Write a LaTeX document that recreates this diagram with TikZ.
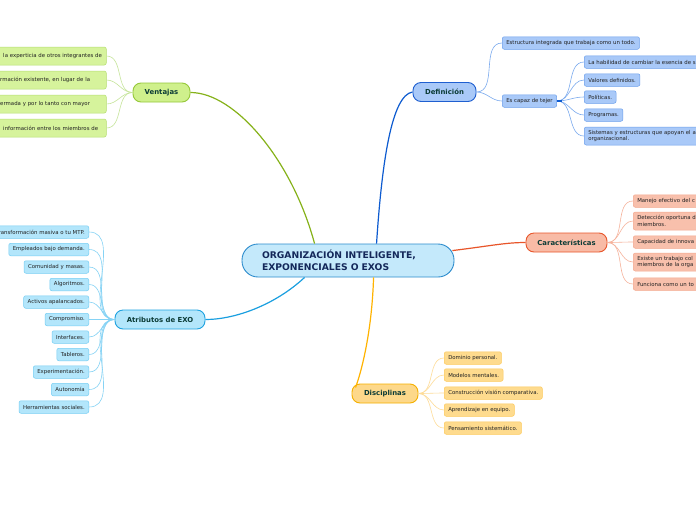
\documentclass[tikz,border=0pt]{standalone}
\usepackage{fontspec}
\setmainfont{DejaVu Sans}
\usetikzlibrary{calc}
\definecolor{ctrfill}{HTML}{C4E9FB}\definecolor{ctrdraw}{HTML}{2D8CCD}\definecolor{ctrtext}{HTML}{14285A}
\definecolor{brtext}{HTML}{0B3B36}\definecolor{lftext}{HTML}{222222}
\definecolor{vfill}{HTML}{CFF08C}\definecolor{vdraw}{HTML}{96C83A}\definecolor{vlfill}{HTML}{D6F39C}\definecolor{vldraw}{HTML}{B6DE72}\definecolor{vmain}{HTML}{86B21A}\definecolor{vcon}{HTML}{C6E59A}
\definecolor{afill}{HTML}{B3E6FB}\definecolor{adraw}{HTML}{1EA2E0}\definecolor{alfill}{HTML}{B3E6FB}\definecolor{aldraw}{HTML}{76CEF3}\definecolor{amain}{HTML}{1A9FE0}\definecolor{acon}{HTML}{86D3F5}
\definecolor{dfill}{HTML}{A9C9F8}\definecolor{ddraw}{HTML}{1F5FD0}\definecolor{dlfill}{HTML}{A9C9F8}\definecolor{dldraw}{HTML}{6B9FEC}\definecolor{dmain}{HTML}{0D5BD0}\definecolor{dcon}{HTML}{7BAAEE}
\definecolor{cfill}{HTML}{F8BBA6}\definecolor{cdraw}{HTML}{E8562B}\definecolor{clfill}{HTML}{F8C0AC}\definecolor{cldraw}{HTML}{F3A88E}\definecolor{cmain}{HTML}{E8552A}\definecolor{ccon}{HTML}{F6B39C}
\definecolor{pfill}{HTML}{FDD88A}\definecolor{pdraw}{HTML}{F5B000}\definecolor{plfill}{HTML}{FEDB8E}\definecolor{pldraw}{HTML}{FDC95A}\definecolor{pmain}{HTML}{FFB300}\definecolor{pcon}{HTML}{FEDC98}
\begin{document}
\begin{tikzpicture}[x=1pt,y=-1pt,
  branch/.style={draw, line width=0.9pt, rounded corners=8pt, font=\bfseries\fontsize{6.9}{8}\selectfont, text=brtext, minimum height=19pt, inner sep=2pt},
  leaf/.style={draw, line width=0.5pt, rounded corners=2pt, font=\fontsize{5.4}{6.4}\selectfont, text=lftext, minimum height=12.5pt, inner xsep=4pt, inner ysep=2pt},
  rleaf/.style={leaf, anchor=west, align=left},
  lleaf/.style={leaf, anchor=east, align=right},
  maincon/.style={line width=1.2pt},
  subcon/.style={line width=0.6pt}]
\useasboundingbox (0,0) rectangle (696,520);
\clip (0,0) rectangle (696,520);
\fill[white] (0,0) rectangle (696,520);

% central
\node[draw=ctrdraw, fill=ctrfill, line width=0.9pt, rounded corners=16pt, minimum width=212pt, minimum height=33pt,
  text width=172pt, align=left, font=\bfseries\fontsize{9.2}{12}\selectfont, text=ctrtext, inner sep=0pt]
  (c) at (348,260.5) {ORGANIZACIÓN INTELIGENTE,\\EXPONENCIALES O EXOS};

% branches
\node[branch, draw=vdraw, fill=vfill, minimum width=57pt] (ven) at (161.5,92.5) {Ventajas};
\node[branch, draw=adraw, fill=afill, minimum width=90pt] (atr) at (160,319.5) {Atributos de EXO};
\node[branch, draw=ddraw, fill=dfill, minimum width=63pt] (def) at (444.5,92) {Definición};
\node[branch, draw=cdraw, fill=cfill, minimum width=81pt] (car) at (566.5,242.5) {Características};
\node[branch, draw=pdraw, fill=pfill, minimum width=66pt] (dis) at (385,393.5) {Disciplinas};

% main connectors
\draw[maincon, vmain] ($(c.north west)+(73,0)$) .. controls (292,160) and (235,92.5) .. (ven.east);
\draw[maincon, dmain] ($(c.north west)+(135,0)$) .. controls (382,160) and (392,95) .. (def.west);
\draw[maincon, amain] ($(c.south west)+(63,0)$) .. controls (275,305) and (235,319.5) .. (atr.east);
\draw[maincon, cmain] ($(c.north east)+(-2,7)$) .. controls (490,246) and (505,242.5) .. (car.west);
\draw[maincon, pmain] ($(c.south west)+(132,0)$) .. controls (372,330) and (362,370) .. ($(dis.west)+(4,-6)$);

% Ventajas leaves (left-aligned text running off the left edge)
\begin{scope}[every node/.style={rleaf, draw=vldraw, fill=vlfill, text width=108pt, minimum height=18pt}]
\node (v1) at (-10,56) {\hspace*{9pt}la experticia de otros integrantes de};
\node (v2) at (-10,80) {\hspace*{6pt}rmación existente, en lugar de la};
\node (v3) at (-10,104) {\hspace*{6pt}ermada y por lo tanto con mayor};
\node (v4) at (-10,128) {\hspace*{9pt}información entre los miembros de};
\end{scope}
\foreach \n in {v1,v2,v3,v4} \draw[subcon, vcon] (ven.west) to[out=180,in=0] (\n.east);

% Atributos leaves
\begin{scope}[every node/.style={lleaf, draw=aldraw, fill=alfill}]
\node (a1) at (89,232) {transformación masiva o tu MTP.};
\node (a2) at (89,249.5) {Empleados bajo demanda.};
\node (a3) at (89,267) {Comunidad y masas.};
\node (a4) at (89,284.5) {Algoritmos.};
\node (a5) at (89,302) {Activos apalancados.};
\node (a6) at (89,319.5) {Compromiso.};
\node (a7) at (89,337) {Interfaces.};
\node (a8) at (89,354.5) {Tableros.};
\node (a9) at (89,372) {Experimentación.};
\node (a10) at (89,389.5) {Autonomía};
\node (a11) at (89,407) {Herramientas sociales.};
\end{scope}
\foreach \n in {a1,a2,a3,a4,a5,a6,a7,a8,a9,a10,a11} \draw[subcon, acon] (atr.west) to[out=180,in=0] (\n.east);

% Definicion leaves
\begin{scope}[every node/.style={rleaf, draw=dldraw, fill=dlfill}]
\node (d1) at (502,43) {Estructura integrada que trabaja como un todo.};
\node (d2) at (502,101) {Es capaz de tejer};
\node[text width=130pt] (e1) at (584,62) {La habilidad de cambiar la esencia de s};
\node (e2) at (584,80) {Valores definidos.};
\node (e3) at (584,97) {Políticas.};
\node (e4) at (584,115) {Programas.};
\node[text width=130pt, minimum height=18pt] (e5) at (584,136) {Sistemas y estructuras que apoyan el a\\organizacional.};
\end{scope}
\foreach \n in {d1,d2} \draw[subcon, dcon] (def.east) to[out=0,in=180] (\n.west);
\foreach \n in {e1,e2,e3,e4,e5} \draw[subcon, dcon] (d2.east) to[out=0,in=180] (\n.west);
\draw[line width=1.2pt, dmain] (d2.east) -- ++(5,0);

% Caracteristicas leaves
\begin{scope}[every node/.style={rleaf, draw=cldraw, fill=clfill, text width=100pt}]
\node (k1) at (633,201) {Manejo efectivo del c};
\node[minimum height=18pt] (k2) at (633,221) {Detección oportuna d\\miembros.};
\node (k3) at (633,242) {Capacidad de innova};
\node[minimum height=18pt] (k4) at (633,262) {Existe un trabajo col\\miembros de la orga};
\node (k5) at (633,284) {Funciona como un to};
\end{scope}
\foreach \n in {k1,k2,k3,k4,k5} \draw[subcon, ccon] (car.east) to[out=0,in=180] (\n.west);

% Disciplinas leaves
\begin{scope}[every node/.style={rleaf, draw=pldraw, fill=plfill}]
\node (p1) at (444,358) {Dominio personal.};
\node (p2) at (444,375) {Modelos mentales.};
\node (p3) at (444,393) {Construcción visión comparativa.};
\node (p4) at (444,410) {Aprendizaje en equipo.};
\node (p5) at (444,428) {Pensamiento sistemático.};
\end{scope}
\foreach \n in {p1,p2,p3,p4,p5} \draw[subcon, pcon] (dis.east) to[out=0,in=180] (\n.west);
\end{tikzpicture}
\end{document}
